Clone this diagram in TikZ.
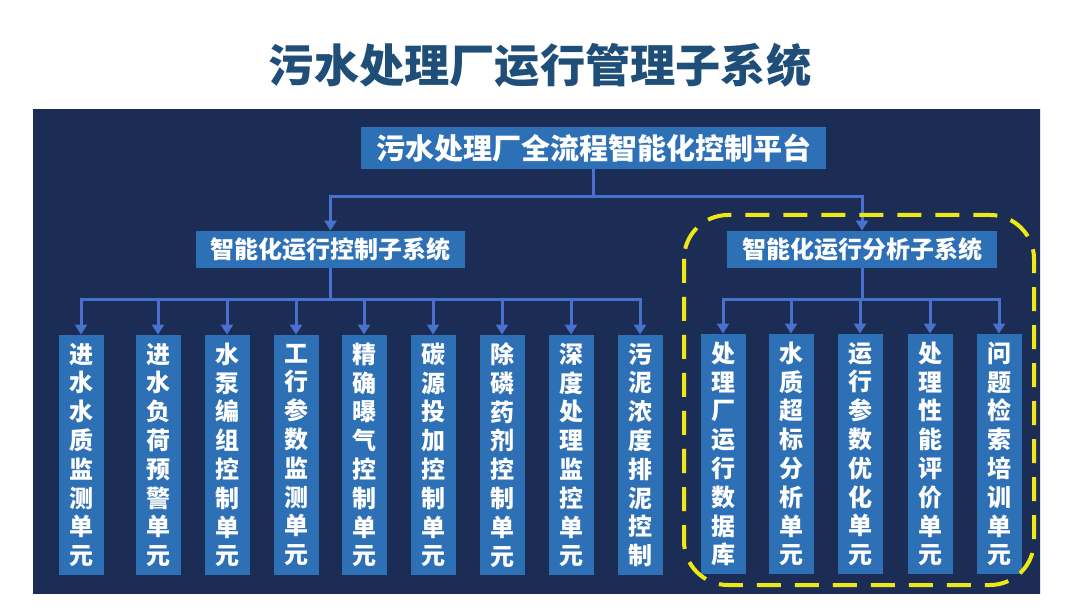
\documentclass[tikz,border=0pt]{standalone}
\usepackage{fontspec}
\newfontfamily\cjk{Noto Sans CJK SC}
\usetikzlibrary{positioning, arrows.meta, calc}
\definecolor{PanelTop}{RGB}{28,45,85}
\definecolor{PanelMid}{RGB}{45,69,116}
\definecolor{BoxBlue}{RGB}{46,112,182}
\definecolor{LineBlue}{RGB}{72,112,205}
\definecolor{TitleBlue}{RGB}{31,78,121}
\definecolor{MarkYellow}{RGB}{240,232,20}
\begin{document}
\begin{tikzpicture}[x=0.5pt, y=-0.5pt,
    box/.style={fill=BoxBlue, text=white, inner sep=0pt},
    unitbox/.style={box, minimum width=22.5pt, minimum height=120pt, align=center,
        font=\cjk\bfseries\fontsize{12}{14.4}\selectfont},
    link/.style={LineBlue, line width=1.5pt},
    arr/.style={link, -{Triangle[length=5pt, width=6pt]}}]
    \useasboundingbox (0,0) rectangle (1080,608);
    \fill[white] (0,0) rectangle (1080,608);

    % Title
    \node[font=\cjk\bfseries\fontsize{22.6}{26}\selectfont, text=TitleBlue] (title) at (540,65) {污水处理厂运行管理子系统};

    % Panel
    \shade[top color=PanelTop, middle color=PanelMid, bottom color=PanelTop] (33,110) rectangle (1040,593);

    % Platform and subsystems
    \node[box, minimum width=232.5pt, minimum height=21pt, font=\cjk\bfseries\fontsize{14.5}{16}\selectfont] (plat) at (593.5,148) {污水处理厂全流程智能化控制平台};
    \node[box, minimum width=134.5pt, minimum height=18.5pt, font=\cjk\bfseries\fontsize{12}{14}\selectfont] (ctrl) at (330.5,249.5) {智能化运行控制子系统};
    \node[box, minimum width=135pt, minimum height=18.5pt, font=\cjk\bfseries\fontsize{12}{14}\selectfont] (ana) at (862,249.5) {智能化运行分析子系统};
    \coordinate (jp) at (593.5,197);
    \draw[link] (plat.south) -- (jp);
    \draw[arr] (jp) -| (ctrl.north);
    \draw[arr] (jp) -| (ana.north);

    % Control units
    \node[unitbox] (c1) at (81,455) {进\\水\\水\\质\\监\\测\\单\\元};
    \node[unitbox] (c2) at (158,455) {进\\水\\负\\荷\\预\\警\\单\\元};
    \node[unitbox] (c3) at (227,455) {水\\泵\\编\\组\\控\\制\\单\\元};
    \node[unitbox] (c4) at (296,455) {工\\行\\参\\数\\监\\测\\单\\元};
    \node[unitbox] (c5) at (364,455) {精\\确\\曝\\气\\控\\制\\单\\元};
    \node[unitbox] (c6) at (433,455) {碳\\源\\投\\加\\控\\制\\单\\元};
    \node[unitbox] (c7) at (502,455) {除\\磷\\药\\剂\\控\\制\\单\\元};
    \node[unitbox] (c8) at (571,455) {深\\度\\处\\理\\监\\控\\单\\元};
    \node[unitbox] (c9) at (640,455) {污\\泥\\浓\\度\\排\\泥\\控\\制};
    \coordinate (jc) at (330.5,300);
    \draw[link] (ctrl.south) -- (jc);
    \draw[arr] (jc) -| (c1.north);
    \draw[arr] (jc) -| (c2.north);
    \draw[arr] (jc) -| (c3.north);
    \draw[arr] (jc) -| (c4.north);
    \draw[arr] (jc) -| (c5.north);
    \draw[arr] (jc) -| (c6.north);
    \draw[arr] (jc) -| (c7.north);
    \draw[arr] (jc) -| (c8.north);
    \draw[arr] (jc) -| (c9.north);

    % Analysis units
    \node[unitbox] (a1) at (723,454) {处\\理\\厂\\运\\行\\数\\据\\库};
    \node[unitbox] (a2) at (791,454) {水\\质\\超\\标\\分\\析\\单\\元};
    \node[unitbox] (a3) at (860,454) {运\\行\\参\\数\\优\\化\\单\\元};
    \node[unitbox] (a4) at (930,454) {处\\理\\性\\能\\评\\价\\单\\元};
    \node[unitbox] (a5) at (999,454) {问\\题\\检\\索\\培\\训\\单\\元};
    \coordinate (ja) at (862,300);
    \draw[link] (ana.south) -- (ja);
    \draw[arr] (ja) -| (a1.north);
    \draw[arr] (ja) -| (a2.north);
    \draw[arr] (ja) -| (a3.north);
    \draw[arr] (ja) -| (a4.north);
    \draw[arr] (ja) -| (a5.north);

    % Highlight
    \draw[MarkYellow, line width=2pt, dash pattern=on 12pt off 7pt, rounded corners=22pt] (684,215) rectangle (1034,585);
\end{tikzpicture}
\end{document}
